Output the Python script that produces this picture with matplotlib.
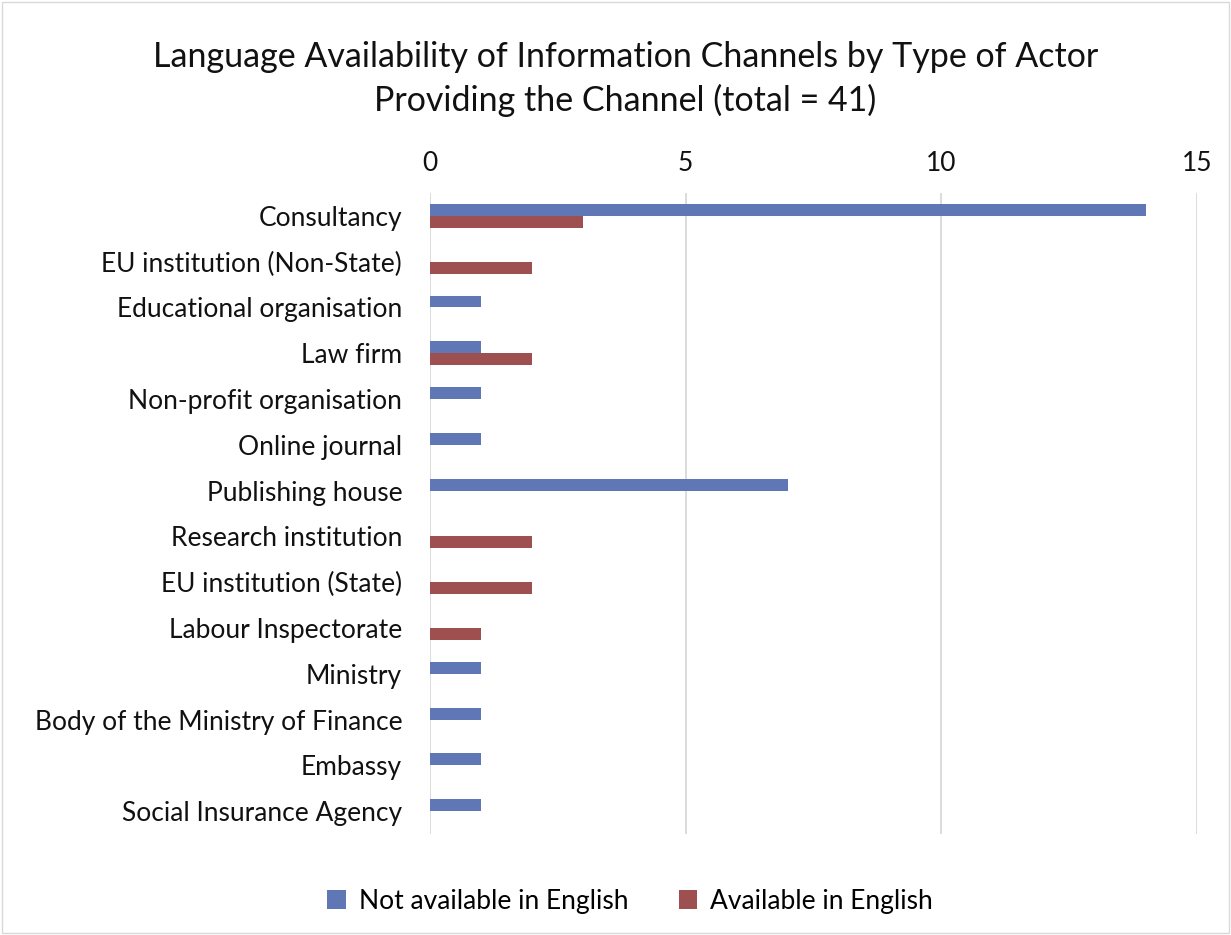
import matplotlib
matplotlib.use("Agg")
import matplotlib.pyplot as plt
import numpy as np

plt.rcParams['font.family'] = ['Lato', 'DejaVu Sans']

actors = ['Consultancy', 'EU institution (Non-State)', 'Educational organisation',
          'Law firm', 'Non-profit organisation', 'Online journal', 'Publishing house',
          'Research institution', 'EU institution (State)', 'Labour Inspectorate',
          'Ministry', 'Body of the Ministry of Finance', 'Embassy',
          'Social Insurance Agency']
not_english = [14, 0, 1, 1, 1, 1, 7, 0, 0, 0, 1, 1, 1, 1]
english = [3, 2, 0, 2, 0, 0, 0, 2, 2, 1, 0, 0, 0, 0]

blue = '#5F77B5'
red = '#9E5050'

fig = plt.figure(figsize=(12.31, 9.35), dpi=100)
ax = fig.add_axes([0.3493, 0.108, 0.6231, 0.6856])

y = np.arange(len(actors))
h = 0.26
ax.barh(y - h / 2, not_english, height=h, color=blue, label='Not available in English')
ax.barh(y + h / 2, english, height=h, color=red, label='Available in English')

ax.set_ylim(len(actors) - 0.5, -0.5)
ax.set_xlim(0, 15)
ax.set_xticks([0, 5, 10, 15])
ax.xaxis.tick_top()
ax.set_yticks(y)
ax.set_yticklabels(actors)
ax.tick_params(axis='both', length=0, labelsize=19, colors='#111111')
ax.tick_params(axis='x', pad=12)
ax.tick_params(axis='y', pad=20)
for s in ax.spines.values():
    s.set_visible(False)
ax.grid(axis='x', color='#D9D9D9', linewidth=1.3)
ax.set_axisbelow(True)

fig.text(0.508, 0.915, 'Language Availability of Information Channels by Type of Actor\n'
         'Providing the Channel (total = 41)', ha='center', va='center',
         fontsize=24.5, color='#111111', linespacing=1.4)

fig.legend(loc='center', bbox_to_anchor=(0.512, 0.036), ncol=2, frameon=False,
           fontsize=19, handlelength=0.7, handleheight=0.7, columnspacing=1.9,
           handletextpad=0.5)

fig.patches.append(plt.Rectangle((0.002, 0.002), 0.996, 0.996, transform=fig.transFigure,
                                 fill=False, edgecolor='#D9D9D9', linewidth=1))

fig.savefig('out.png', dpi=100)
